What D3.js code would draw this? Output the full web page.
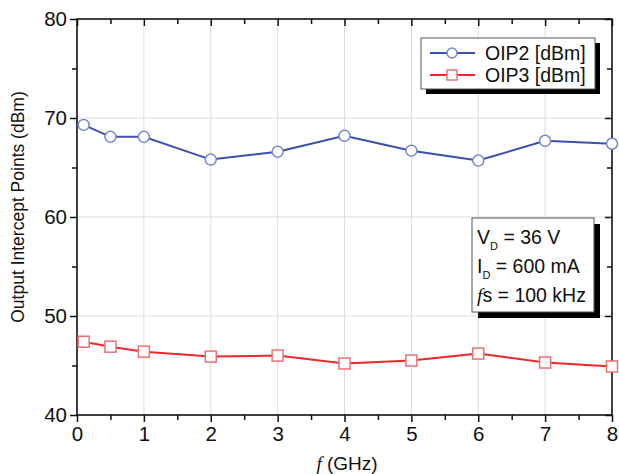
<!DOCTYPE html>
<html>
<head>
<meta charset="utf-8">
<script src="https://cdn.jsdelivr.net/npm/d3@7"></script>
<style>
  body { margin: 0; background: #fff; }
  text { font-family: "Liberation Sans", Arial, sans-serif; fill: #111; }
</style>
</head>
<body>
<div id="chart"></div>
<script>
const width = 619;
const height = 474;
var margin = {top: 19, right: 7, bottom: 59, left: 77};

// ********* DATA *********
var freqs = [0.1, 0.5, 1, 2, 3, 4, 5, 6, 7, 8];
var oip2 = [69.3, 68.1, 68.1, 65.8, 66.6, 68.2, 66.7, 65.7, 67.7, 67.4];
var oip3 = [47.4, 46.9, 46.4, 45.9, 46.0, 45.2, 45.5, 46.2, 45.3, 44.9];
var xTicks = [0, 1, 2, 3, 4, 5, 6, 7, 8];
var yTicks = [40, 50, 60, 70, 80];
var seriesNames = ["OIP2 [dBm]", "OIP3 [dBm]"];
const colors = {oip2: "#3a4fae", oip3: "#f0282a"};

var svg = d3.select("#chart").append("svg")
  .attr("width", width)
  .attr("height", height);

var x_scale = d3.scaleLinear().domain([0, 8]).range([margin.left, width - margin.right]);
var y_scale = d3.scaleLinear().domain([40, 80]).range([height - margin.bottom, margin.top]);

// ******** GRID *********
svg.append("g").selectAll("line").data(xTicks.slice(1, -1)).enter().append("line")
  .attr("x1", d => x_scale(d)).attr("x2", d => x_scale(d))
  .attr("y1", margin.top).attr("y2", height - margin.bottom)
  .style("stroke", "#dcdcdc").style("stroke-width", 1);
svg.append("g").selectAll("line").data(yTicks.slice(1, -1)).enter().append("line")
  .attr("y1", d => y_scale(d)).attr("y2", d => y_scale(d))
  .attr("x1", margin.left).attr("x2", width - margin.right)
  .style("stroke", "#dcdcdc").style("stroke-width", 1);

// ******** AXES *********
function styleAxis(g) {
  g.select(".domain").remove();
  g.selectAll("line").style("stroke", "#111").style("stroke-width", 1.5);
  g.selectAll("text").style("font-size", "20.5px").style("fill", "#111")
    .style("font-family", "'Liberation Sans', Arial, sans-serif");
}
var xMinor = d3.range(0, 8.01, 0.5);
var yMinor = d3.range(40, 80.01, 5);

var bottom = svg.append("g").attr("transform", `translate(0, ${height - margin.bottom})`)
  .call(d3.axisBottom(x_scale).tickValues(xMinor).tickSize(5).tickFormat(""));
styleAxis(bottom);
bottom.selectAll("line").attr("y2", d => Number.isInteger(d) ? 7 : 5);
var bottomLab = svg.append("g").attr("transform", `translate(0, ${height - margin.bottom})`)
  .call(d3.axisBottom(x_scale).tickValues(xTicks).tickSize(0).tickPadding(11).tickFormat(d3.format("d")));
styleAxis(bottomLab);

var top_ax = svg.append("g").attr("transform", `translate(0, ${margin.top})`)
  .call(d3.axisBottom(x_scale).tickValues(xMinor).tickFormat(""));
styleAxis(top_ax);
top_ax.selectAll("line").attr("y2", d => Number.isInteger(d) ? 7 : 5);

var left = svg.append("g").attr("transform", `translate(${margin.left}, 0)`)
  .call(d3.axisLeft(y_scale).tickValues(yMinor).tickFormat(""));
styleAxis(left);
left.selectAll("line").attr("x2", d => d % 10 === 0 ? -7 : -5);
var leftLab = svg.append("g").attr("transform", `translate(${margin.left}, 0)`)
  .call(d3.axisLeft(y_scale).tickValues(yTicks).tickSize(0).tickPadding(10).tickFormat(d3.format("d")));
styleAxis(leftLab);

var right = svg.append("g").attr("transform", `translate(${width - margin.right}, 0)`)
  .call(d3.axisLeft(y_scale).tickValues(yMinor).tickFormat(""));
styleAxis(right);
right.selectAll("line").attr("x2", d => d % 10 === 0 ? -7 : -5);

// frame
svg.append("rect")
  .attr("x", margin.left).attr("y", margin.top)
  .attr("width", width - margin.left - margin.right)
  .attr("height", height - margin.top - margin.bottom)
  .style("fill", "none").style("stroke", "#111").style("stroke-width", 1.6);

// ******** SERIES *********
var line = d3.line().x(d => x_scale(d[0])).y(d => y_scale(d[1]));
var s2 = freqs.map((f, i) => [f, oip2[i]]);
var s3 = freqs.map((f, i) => [f, oip3[i]]);

svg.append("path").datum(s2).attr("d", line)
  .style("fill", "none").style("stroke", colors.oip2).style("stroke-width", 2);
svg.append("path").datum(s3).attr("d", line)
  .style("fill", "none").style("stroke", colors.oip3).style("stroke-width", 2);

svg.append("g").selectAll("circle").data(s2).enter().append("circle")
  .attr("cx", d => x_scale(d[0])).attr("cy", d => y_scale(d[1])).attr("r", 5.5)
  .style("fill", "#fff").style("stroke", "#7a86cc").style("stroke-width", 1.5);
svg.append("g").selectAll("rect").data(s3).enter().append("rect")
  .attr("x", d => x_scale(d[0]) - 5.5).attr("y", d => y_scale(d[1]) - 5.5)
  .attr("width", 11).attr("height", 11)
  .style("fill", "#fff").style("stroke", "#f07070").style("stroke-width", 1.5);

// ******** LEGEND *********
var legend = svg.append("g");
legend.append("rect").attr("x", 426).attr("y", 43).attr("width", 174).attr("height", 51).style("fill", "#000");
legend.append("rect").attr("x", 421).attr("y", 38).attr("width", 174).attr("height", 51)
  .style("fill", "#fff").style("stroke", "#555").style("stroke-width", 1);
seriesNames.forEach(function(name, i) {
  var yy = 53 + i * 22;
  var c = i === 0 ? colors.oip2 : colors.oip3;
  legend.append("line").attr("x1", 430).attr("x2", 475).attr("y1", yy).attr("y2", yy)
    .style("stroke", c).style("stroke-width", 2);
  if (i === 0) {
    legend.append("circle").attr("cx", 452).attr("cy", yy).attr("r", 5)
      .style("fill", "#fff").style("stroke", "#7a86cc").style("stroke-width", 1.5);
  } else {
    legend.append("rect").attr("x", 447).attr("y", yy - 5).attr("width", 10).attr("height", 10)
      .style("fill", "#fff").style("stroke", "#f07070").style("stroke-width", 1.5);
  }
  legend.append("text").attr("x", 485).attr("y", yy + 7).text(name).style("font-size", "19.5px");
});

// ******** ANNOTATION *********
var note = svg.append("g");
note.append("rect").attr("x", 478).attr("y", 224).attr("width", 122).attr("height", 94).style("fill", "#000");
note.append("rect").attr("x", 472).attr("y", 218).attr("width", 122).attr("height", 94)
  .style("fill", "#fff").style("stroke", "#555").style("stroke-width", 1);
var t1 = note.append("text").attr("x", 477).attr("y", 244).style("font-size", "19.5px");
t1.append("tspan").text("V");
t1.append("tspan").attr("dy", 6).style("font-size", "11px").text("D");
t1.append("tspan").attr("dy", -6).text(" = 36 V");
var t2 = note.append("text").attr("x", 477).attr("y", 273).style("font-size", "19.5px");
t2.append("tspan").text("I");
t2.append("tspan").attr("dy", 6).style("font-size", "11px").text("D");
t2.append("tspan").attr("dy", -6).text(" = 600 mA");
var t3 = note.append("text").attr("x", 477).attr("y", 302).style("font-size", "19.5px");
t3.append("tspan").style("font-style", "italic").style("font-family", "'Liberation Serif', serif").text("f");
t3.append("tspan").text("s = 100 kHz");

// ******** AXIS TITLES *********
var xt = svg.append("text").attr("x", 347).attr("y", 470).attr("text-anchor", "middle").style("font-size", "19px");
xt.append("tspan").style("font-style", "italic").style("font-family", "'Liberation Serif', serif").text("f");
xt.append("tspan").text("  (GHz)");

svg.append("text")
  .attr("transform", `translate(24, ${(margin.top + height - margin.bottom) / 2 - 10}) rotate(-90)`)
  .attr("text-anchor", "middle")
  .style("font-size", "17.5px")
  .text("Output Intercept Points (dBm)");
</script>
</body>
</html>
